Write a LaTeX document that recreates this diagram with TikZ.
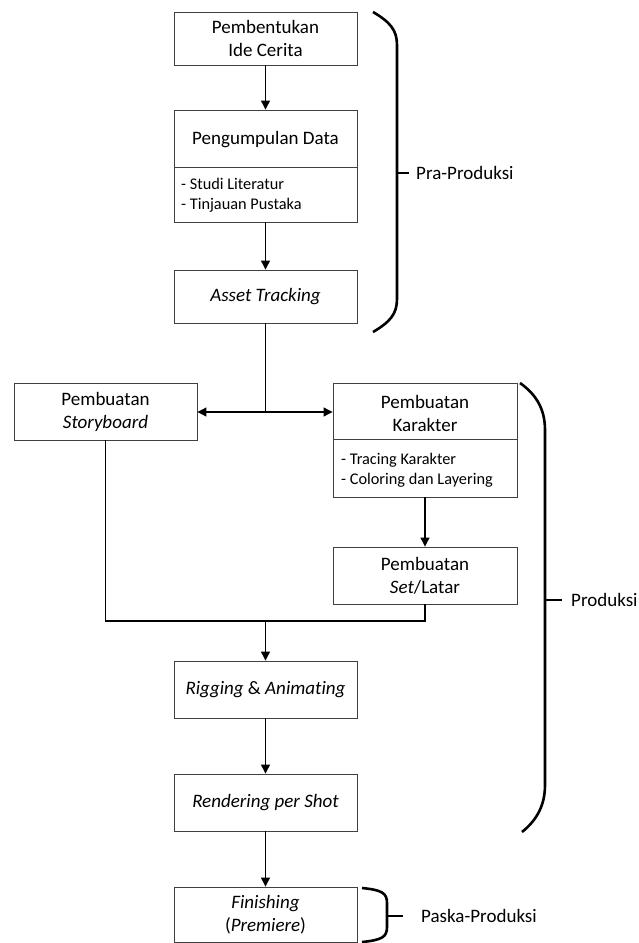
\documentclass[tikz,border=0pt]{standalone}
\usepackage{fontspec}
\setmainfont[Ligatures={NoCommon,TeX}]{Carlito}
\usetikzlibrary{arrows.meta}
\begin{document}
\begin{tikzpicture}[x=1pt,y=-1pt,
  box/.style={draw=black!75,line width=0.9pt,minimum width=183pt,inner sep=0pt,align=center,font=\fontsize{19}{23}\selectfont},
  lbl/.style={inner sep=0pt,align=center,font=\fontsize{19}{23}\selectfont},
  sub/.style={inner sep=0pt,align=left,anchor=west,font=\fontsize{16.3}{20}\selectfont},
  conn/.style={line width=1.1pt,-{Triangle[width=9pt,length=9pt]}},
  line/.style={line width=1.1pt},
  brace/.style={line width=2.6pt,line cap=butt}]
\useasboundingbox (0,0) rectangle (639,943);
% Pra-produksi
\node[box,minimum height=53pt] (b1) at (265.5,38.5) {Pembentukan\\Ide Cerita};
\node[box,minimum height=112pt] (b2) at (265.5,166) {};
\draw[draw=black!75,line width=0.9pt] (b2.west |- 0,167) -- (b2.east |- 0,167);
\node[lbl] (b2t) at (265.5,140) {Pengumpulan Data};
\node[sub] (b2s) at (181,195) {- Studi Literatur\\- Tinjauan Pustaka};
\node[box,minimum height=53pt] (b3) at (265.5,296.5) {\itshape Asset Tracking};
% Produksi
\node[box,minimum height=57pt] (sb) at (105.5,411.5) {Pembuatan\\\itshape Storyboard};
\node[box,minimum width=184pt,minimum height=114pt] (kr) at (425,440) {};
\draw[draw=black!75,line width=0.9pt] (kr.west |- 0,439) -- (kr.east |- 0,439);
\node[lbl] (krt) at (425,413) {Pembuatan\\Karakter};
\node[sub] (krs) at (341,470) {- Tracing Karakter\\- Coloring dan Layering};
\node[box,minimum width=184pt,minimum height=57pt] (st) at (425,575.5) {Pembuatan\\\textit{Set}/Latar};
\node[box,minimum height=57pt] (rg) at (265.5,689.5) {\textit{Rigging} \& \textit{Animating}};
\node[box,minimum height=57pt] (rd) at (265.5,802.5) {\itshape Rendering per Shot};
\node[box,minimum height=55pt] (fn) at (265.5,914.5) {\textit{Finishing}\\(\textit{Premiere})};
% connectors
\coordinate (j1) at (265.5,412);
\coordinate (j2) at (265.5,621);
\draw[conn] (b1) -- (b2);
\draw[conn] (b2) -- (b3);
\draw[line] (b3.south) -- (j1);
\draw[conn] (j1) -- (sb.east |- j1);
\draw[conn] (j1) -- (kr.west |- j1);
\draw[conn] (kr) -- (st);
\draw[line] (sb.south) |- (j2) -| (st.south);
\draw[conn] (j2) -- (rg.north);
\draw[conn] (rg) -- (rd);
\draw[conn] (rd) -- (fn);
% braces
\draw[brace] (373,12) .. controls (390,22) and (397,30) .. (397,45) -- (397,299) .. controls (397,314) and (390,322) .. (373,332);
\draw[brace] (397,173) -- (409,173);
\node[lbl,anchor=west] (pra) at (416,173) {Pra-Produksi};
\draw[brace] (520,383) .. controls (537,395) and (545,410) .. (545,430) -- (545,785) .. controls (545,805) and (537,820) .. (522,832);
\draw[brace] (545,600) -- (562,600);
\node[lbl,anchor=west] (pro) at (571,600) {Produksi};
\draw[brace] (362,888) .. controls (382,890) and (387,893) .. (387,903) -- (387,927) .. controls (387,937) and (382,940) .. (362,942);
\draw[brace] (387,916) -- (403,916);
\node[lbl,anchor=west] (pas) at (421,916) {Paska-Produksi};
\end{tikzpicture}
\end{document}
